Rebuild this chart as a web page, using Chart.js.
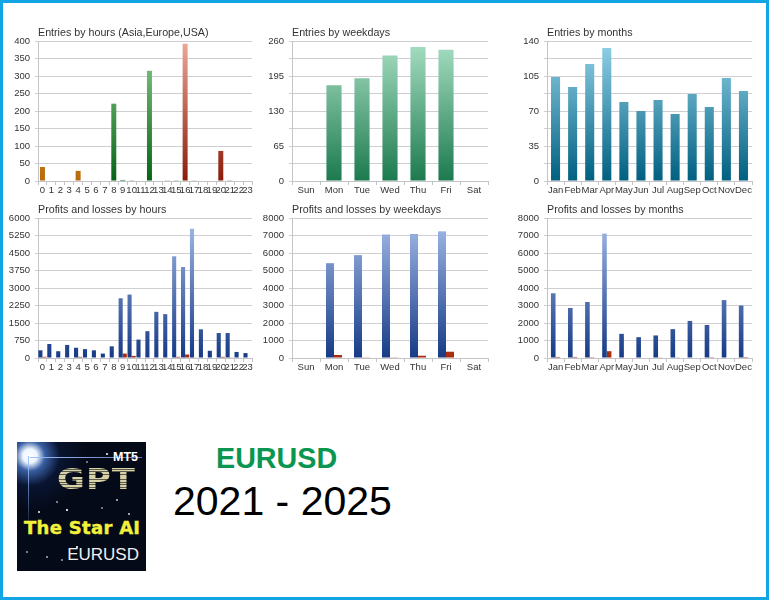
<!DOCTYPE html>
<html>
<head>
<meta charset="utf-8">
<script src="https://cdn.jsdelivr.net/npm/chart.js@4/dist/chart.umd.min.js"></script>
<style>
  html, body { margin: 0; padding: 0; background: #fff; }
  #frame { position: relative; width: 769px; height: 600px; box-sizing: border-box; border: 3px solid #12a5e3; overflow: hidden; }
  .box { position: absolute; }
  #sym { position: absolute; left: 213px; top: 439px; font: bold 28.7px "Liberation Sans", Arial, sans-serif; color: #0a9650; line-height: 32px; }
  #period { position: absolute; left: 170px; top: 475px; font: 41px "Liberation Sans", Arial, sans-serif; color: #000; line-height: 46px; white-space: nowrap; }
  /* logo */
  #logo { position: absolute; left: 14px; top: 439px; width: 129px; height: 129px; overflow: hidden; color: #fff; font-family: "Liberation Sans", Arial, sans-serif;
    background:
      radial-gradient(circle at 13px 14px, #fff 0, #eef6ff 7px, rgba(90,150,255,.6) 15px, rgba(20,50,120,.25) 30px, rgba(20,50,120,0) 55px),
      radial-gradient(circle at 40px 60px, #9ab 0, #9ab .6px, transparent 1px),
      radial-gradient(circle at 90px 12px, #fff 0, #fff .6px, transparent 1px),
      radial-gradient(circle at 60px 105px, #cde 0, #cde .7px, transparent 1.2px),
      radial-gradient(circle at 22px 70px, #fff 0, #fff .6px, transparent 1px),
      radial-gradient(circle at 112px 72px, #cde 0, #cde .6px, transparent 1px),
      radial-gradient(circle at 70px 20px, #89a 0, #89a .6px, transparent 1px),
      radial-gradient(circle at 30px 115px, #abc 0, #abc .6px, transparent 1px),
      radial-gradient(circle at 50px 68px, #cde 0, #cde .7px, transparent 1.2px),
      radial-gradient(circle at 85px 66px, #89a 0, #89a .6px, transparent 1px),
      radial-gradient(circle at 10px 110px, #9ab 0, #9ab .6px, transparent 1px),
      radial-gradient(circle at 45px 118px, #9ab 0, #9ab .6px, transparent 1px),
      radial-gradient(circle at 100px 58px, #fff 0, #fff .5px, transparent 1px),
      #050a18; }
  #logo div { position: absolute; white-space: nowrap; }
  #beamH { left: 13px; top: 15px; width: 112px; height: 1px; background: linear-gradient(90deg, #9cc0ff, #5a78b0); }
  #beamV { left: 11px; top: 14px; width: 1px; height: 70px; background: linear-gradient(180deg, #9cc0ff, rgba(60,90,160,.2)); }
  #l1 { right: 8px; top: 8px; font: bold 12.5px "Liberation Sans", Arial, sans-serif; }
  #l2 { left: 40px; top: 23px; font: bold 32px "DejaVu Sans", sans-serif; line-height: 30px; letter-spacing: 1px; transform-origin: left center; transform: scale(1.06,.86);
    background: repeating-linear-gradient(180deg, #d8d2a8 0, #d8d2a8 2px, #5a5a4a 2px, #5a5a4a 3px); -webkit-background-clip: text; background-clip: text; color: transparent; }
  #l3 { left: 7px; top: 75px; font: bold 18px "DejaVu Sans", sans-serif; color: #f2f23a; letter-spacing: .3px; -webkit-text-stroke: .4px #f2f23a; }
  #l4 { right: 7px; top: 103px; font: 17px "Liberation Sans", Arial, sans-serif; color: #f0f0f0; }
</style>
</head>
<body>
<div id="frame">
  <div class="box" id="b1"><canvas id="c1"></canvas></div>
  <div class="box" id="b2"><canvas id="c2"></canvas></div>
  <div class="box" id="b3"><canvas id="c3"></canvas></div>
  <div class="box" id="b4"><canvas id="c4"></canvas></div>
  <div class="box" id="b5"><canvas id="c5"></canvas></div>
  <div class="box" id="b6"><canvas id="c6"></canvas></div>
  <div id="logo"><div id="beamH"></div><div id="beamV"></div><div id="l1">MT5</div><div id="l2">GPT</div><div id="l3">The Star AI</div><div id="l4">EURUSD</div></div>
  <div id="sym">EURUSD</div>
  <div id="period">2021 - 2025</div>
</div>
<script>
  const hours = ['0','1','2','3','4','5','6','7','8','9','10','11','12','13','14','15','16','17','18','19','20','21','22','23'];
  const weekdays = ['Sun','Mon','Tue','Wed','Thu','Fri','Sat'];
  const months = ['Jan','Feb','Mar','Apr','May','Jun','Jul','Aug','Sep','Oct','Nov','Dec'];

  const entriesHours = [40,0,0,0,29,0,0,0,221,3,2,0,315,0,1,2,392,1,0,0,86,2,0,0];
  const entriesWeekdays = [0,178,191,233,249,244,0];
  const entriesMonths = [104,94,117,133,79,70,81,67,87,74,103,90];

  const profitHours = [330,600,290,560,440,380,330,190,500,2560,2720,790,1150,1980,1880,4360,3900,5540,1230,310,1070,1070,260,210];
  const lossHours = [50,0,0,0,50,0,0,0,0,190,90,0,0,20,0,50,150,15,0,0,50,15,0,0];
  const profitWeekdays = [0,5420,5880,7060,7090,7240,0];
  const lossWeekdays = [0,170,40,40,130,360,0];
  const profitMonths = [3700,2860,3200,7110,1380,1190,1290,1650,2120,1890,3310,3000];
  const lossMonths = [60,60,10,390,0,0,20,20,30,10,30,5];

  const FONT = '"Liberation Sans", Arial, sans-serif';
  const TOP_H = 19;  // title height above plot
  const BOTTOM_H = 22;
  const LEFT_W = 38;

  // gradient runs over the whole plot height, not per bar
  function grad(top, bottom) {
    return (ctx) => {
      const a = ctx.chart.chartArea;
      if (!a) return bottom;
      const g = ctx.chart.ctx.createLinearGradient(0, a.top, 0, a.bottom);
      g.addColorStop(0, top); g.addColorStop(1, bottom);
      return g;
    };
  }
  const hourColor = (ctx) => {
    const i = ctx.dataIndex;
    if (i < 8) return grad('#f0b860', '#b86a08')(ctx);
    if (i < 16) return grad('#8fce8f', '#056414')(ctx);
    return grad('#eea898', '#8a1c08')(ctx);
  };
  const blue = grad('#a6bdea', '#163a86');
  const red = grad('#f0b0a0', '#a82a0c');

  function draw(id, pos, title, labels, datasets, yMax, yStep, catPct, barPct, showEvery) {
    const box = document.getElementById('b' + id);
    const W = pos.right - pos.left + LEFT_W + 4, H = 140 + TOP_H + BOTTOM_H;
    box.style.cssText = `left:${pos.left - LEFT_W - 3}px;top:${pos.top - TOP_H - 3}px;width:${W}px;height:${H}px`;
    new Chart(document.getElementById('c' + id), {
      type: 'bar',
      data: { labels, datasets: datasets.map((d) => ({ data: d.data, backgroundColor: d.color, categoryPercentage: catPct, barPercentage: barPct, borderWidth: 0 })) },
      options: {
        responsive: true, maintainAspectRatio: false, animation: false,
        layout: { padding: { right: 4 }, autoPadding: false },
        plugins: {
          legend: { display: false }, tooltip: { enabled: false },
          title: { display: true, text: title, align: 'start', fullSize: false, color: '#333', font: { family: FONT, size: 10.7, weight: 'normal', lineHeight: 1.2 }, padding: { top: 5, bottom: 1.2 } },
        },
        scales: {
          x: {
            grid: { drawOnChartArea: false, color: '#c4c4c8', tickLength: 4 }, border: { color: '#c4c4c8' },
            ticks: { color: '#333', font: { family: FONT, size: 9.5 }, padding: 0, maxRotation: 0, autoSkip: false },
            afterFit: (s) => { s.height = BOTTOM_H; },
          },
          y: {
            min: 0, max: yMax,
            grid: { color: '#cfcfd3', tickLength: 3 }, border: { color: '#c4c4c8' },
            ticks: { stepSize: yStep, color: '#333', font: { family: FONT, size: 9.5 }, padding: 5,
              callback: (v) => (Math.round(v / yStep) % showEvery === 0 ? v : '') },
            afterFit: (s) => { s.width = LEFT_W; },
          },
        },
      },
    });
  }

  const R1 = 41, R2 = 218;
  const C1 = { left: 38, right: 252 }, C2 = { left: 292, right: 488 }, C3 = { left: 547, right: 752 };

  draw(1, { ...C1, top: R1 }, 'Entries by hours (Asia,Europe,USA)', hours, [{ data: entriesHours, color: hourColor }], 400, 50, 0.56, 1, 1);
  draw(2, { ...C2, top: R1 }, 'Entries by weekdays', weekdays, [{ data: entriesWeekdays, color: grad('#a8dfc4', '#1c7a4e') }], 260, 32.5, 0.54, 1, 2);
  draw(3, { ...C3, top: R1 }, 'Entries by months', months, [{ data: entriesMonths, color: grad('#93d3e8', '#005f80') }], 140, 17.5, 0.53, 1, 2);
  draw(4, { ...C1, top: R2 }, 'Profits and losses by hours', hours, [{ data: profitHours, color: blue }, { data: lossHours, color: red }], 6000, 750, 0.92, 1, 1);
  draw(5, { ...C2, top: R2 }, 'Profits and losses by weekdays', weekdays, [{ data: profitWeekdays, color: blue }, { data: lossWeekdays, color: red }], 8000, 1000, 0.57, 1, 1);
  draw(6, { ...C3, top: R2 }, 'Profits and losses by months', months, [{ data: profitMonths, color: blue }, { data: lossMonths, color: red }], 8000, 1000, 0.54, 1, 1);
</script>
</body>
</html>
